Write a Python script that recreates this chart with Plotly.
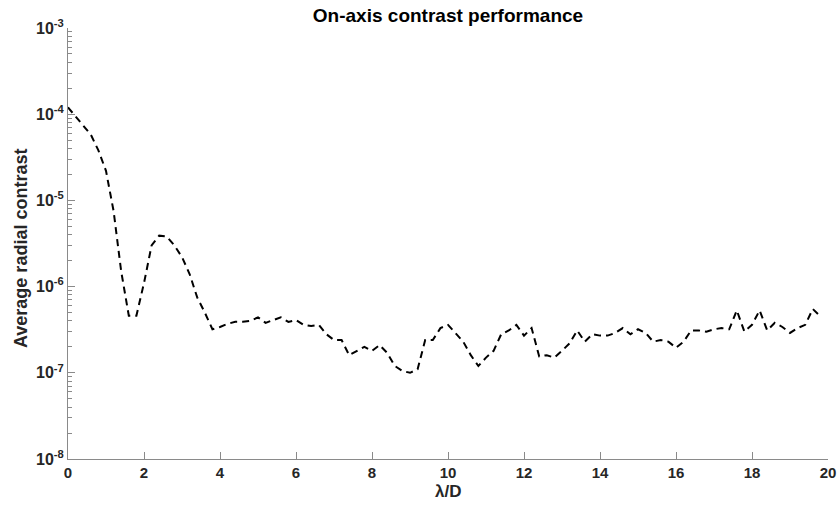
import plotly.graph_objects as go

x_lambda_d = [0.0, 0.2, 0.4, 0.6, 0.8, 1.0, 1.2, 1.4, 1.6, 1.8,
              2.0, 2.2, 2.4, 2.6, 2.8, 3.0, 3.2, 3.4, 3.6, 3.8,
              4.0, 4.2, 4.4, 4.6, 4.8, 5.0, 5.2, 5.4, 5.6, 5.8,
              6.0, 6.2, 6.4, 6.6, 6.8, 7.0, 7.2, 7.4, 7.6, 7.8,
              8.0, 8.2, 8.4, 8.6, 8.8, 9.0, 9.2, 9.4, 9.6, 9.8,
              10.0, 10.2, 10.4, 10.6, 10.8, 11.0, 11.2, 11.4, 11.6, 11.8,
              12.0, 12.2, 12.4, 12.6, 12.8, 13.0, 13.2, 13.4, 13.6, 13.8,
              14.0, 14.2, 14.4, 14.6, 14.8, 15.0, 15.2, 15.4, 15.6, 15.8,
              16.0, 16.2, 16.4, 16.6, 16.8, 17.0, 17.2, 17.4, 17.6, 17.8,
              18.0, 18.2, 18.4, 18.6, 18.8, 19.0, 19.2, 19.4, 19.6, 19.8]

contrast = [1.2e-4, 9.5e-5, 7.5e-5, 5.8e-5, 3.8e-5, 2.2e-5, 7.5e-6, 1.5e-6, 4.6e-7, 4.6e-7,
            1.1e-6, 3.0e-6, 3.9e-6, 3.8e-6, 3.0e-6, 2.2e-6, 1.4e-6, 7.5e-7, 5.0e-7, 3.2e-7,
            3.4e-7, 3.7e-7, 3.9e-7, 3.9e-7, 4.0e-7, 4.4e-7, 3.8e-7, 4.1e-7, 4.4e-7, 3.9e-7,
            4.1e-7, 3.6e-7, 3.5e-7, 3.6e-7, 2.8e-7, 2.4e-7, 2.4e-7, 1.6e-7, 1.8e-7, 2.0e-7,
            1.8e-7, 2.1e-7, 1.7e-7, 1.2e-7, 1.05e-7, 1.0e-7, 1.1e-7, 2.4e-7, 2.4e-7, 3.3e-7,
            3.6e-7, 2.9e-7, 2.3e-7, 1.6e-7, 1.2e-7, 1.5e-7, 1.8e-7, 2.8e-7, 3.1e-7, 3.6e-7,
            2.7e-7, 3.3e-7, 1.55e-7, 1.6e-7, 1.5e-7, 1.8e-7, 2.2e-7, 3.1e-7, 2.3e-7, 2.8e-7,
            2.7e-7, 2.7e-7, 2.9e-7, 3.3e-7, 2.8e-7, 3.2e-7, 2.9e-7, 2.3e-7, 2.4e-7, 2.3e-7,
            1.95e-7, 2.3e-7, 3.1e-7, 3.1e-7, 3.0e-7, 3.2e-7, 3.3e-7, 3.2e-7, 5.3e-7, 3.0e-7,
            3.6e-7, 5.3e-7, 3.1e-7, 3.8e-7, 3.4e-7, 2.9e-7, 3.3e-7, 3.6e-7, 5.5e-7, 4.5e-7]

x_ticks = [0, 2, 4, 6, 8, 10, 12, 14, 16, 18, 20]
x_tick_text = ["<b>%d</b>" % v for v in x_ticks]
y_ticks = [1e-8, 1e-7, 1e-6, 1e-5, 1e-4, 1e-3]
y_tick_text = ["<b>10<sup>-8</sup></b>", "<b>10<sup>-7</sup></b>", "<b>10<sup>-6</sup></b>",
               "<b>10<sup>-5</sup></b>", "<b>10<sup>-4</sup></b>", "<b>10<sup>-3</sup></b>"]
y_minor_ticks = [m * 10.0 ** e for e in range(-8, -3) for m in range(2, 10)]

FONT = "Liberation Sans, Arial, sans-serif"
AXIS_COLOR = "#8a8a8a"
TEXT_COLOR = "#262626"

# plot area in pixels: x 68..828, y 28..459
PL, PR, PT, PB = 68, 828, 28, 459
PW, PH = PR - PL, PB - PT

fig = go.Figure()
fig.add_trace(go.Scatter(
    x=x_lambda_d, y=contrast, mode="lines",
    line=dict(color="black", width=2, dash="7px,5px"),
    showlegend=False,
))

fig.update_layout(
    width=840, height=506,
    margin=dict(l=PL, r=840 - PR, t=PT, b=506 - PB, autoexpand=False),
    paper_bgcolor="white", plot_bgcolor="white",
    font=dict(family=FONT, color=TEXT_COLOR),
    title=dict(text="<b>On-axis contrast performance</b>",
               x=(PL + PR) / 2 / 840, xanchor="center",
               y=1 - 15 / 506, yanchor="middle",
               font=dict(size=19, family=FONT, color="black")),
    annotations=[
        dict(text="<b>λ/D</b>", xref="paper", yref="paper",
             x=0.5, y=(PB - 491) / PH, xanchor="center", yanchor="middle",
             showarrow=False, font=dict(size=17, family=FONT, color=TEXT_COLOR)),
        dict(text="<b>Average radial contrast</b>", xref="paper", yref="paper",
             x=(21 - PL) / PW, y=(PB - 249) / PH, xanchor="center", yanchor="middle",
             textangle=-90, showarrow=False,
             font=dict(size=18, family=FONT, color=TEXT_COLOR)),
    ],
)

fig.update_xaxes(
    range=[0, 20], tickvals=x_ticks, ticktext=x_tick_text, automargin=False,
    showgrid=False, zeroline=False, showline=True, linecolor=AXIS_COLOR, linewidth=1,
    ticks="inside", ticklen=7, tickcolor=AXIS_COLOR, tickwidth=1,
    tickfont=dict(size=15, family=FONT, color=TEXT_COLOR),
)
fig.update_yaxes(
    type="log", range=[-8, -3], tickvals=y_ticks, ticktext=y_tick_text, automargin=False,
    showgrid=False, zeroline=False, showline=True, linecolor=AXIS_COLOR, linewidth=1,
    ticks="inside", ticklen=7, tickcolor=AXIS_COLOR, tickwidth=1,
    minor=dict(ticks="inside", ticklen=4, tickcolor=AXIS_COLOR, showgrid=False,
               tickvals=y_minor_ticks),
    tickfont=dict(size=16, family=FONT, color=TEXT_COLOR),
)

fig.write_html("out.html")
